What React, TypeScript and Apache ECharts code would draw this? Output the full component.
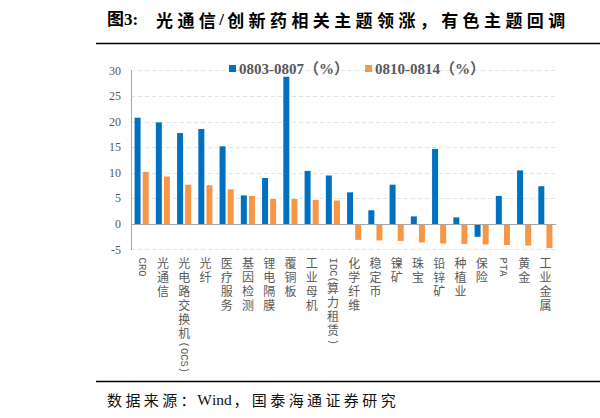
import { useEffect, useRef } from 'react'
import * as echarts from 'echarts'

// 行业主题（横轴）
const CATEGORIES = [
  'CRO',
  '光通信',
  '光电路交换机(OCS)',
  '光纤',
  '医疗服务',
  '基因检测',
  '锂电隔膜',
  '覆铜板',
  '工业母机',
  'IDC(算力租赁)',
  '化学纤维',
  '稳定币',
  '镍矿',
  '珠宝',
  '铅锌矿',
  '种植业',
  '保险',
  'PTA',
  '黄金',
  '工业金属',
]

const SERIES_NAMES = ['0803-0807（%）', '0810-0814（%）']

// 0803-0807 涨跌幅
const WEEK_A = [20.8, 19.9, 17.8, 18.6, 15.2, 5.6, 9.0, 28.8, 10.4, 9.5, 6.2, 2.7, 7.7, 1.5, 14.7, 1.3, -2.5, 5.5, 10.5, 7.4]
// 0810-0814 涨跌幅
const WEEK_B = [10.2, 9.3, 7.7, 7.6, 6.8, 5.5, 4.9, 4.9, 4.7, 4.6, -3.1, -3.2, -3.3, -3.6, -3.8, -3.9, -4.0, -4.1, -4.2, -4.7]

const Y_MIN = -5
const Y_MAX = 30
const Y_STEP = 5

const TITLE_LEAD = '图3:'
const TITLE_TEXT = '光通信/创新药相关主题领涨，有色主题回调'
const SOURCE_TEXT = '数据来源：Wind，国泰海通证券研究'

const BLUE = '#0070C0'
const ORANGE = '#F79646'
const GRAY_TEXT = '#595959'
const SERIF = '"Liberation Serif", "Noto Sans CJK SC", serif'
const CJK = '"Noto Sans CJK SC"'

// 竖排标签尺寸
const CJK_FS = 12
const CJK_LH = 14
const LATIN_FS = 10.5
const LATIN_W = LATIN_FS * 0.6 // Liberation Mono 等宽字符宽度

const isLatin = (c: string) => /[\x00-\x7F]/.test(c)

/** 把名称拆成西文段与汉字段 */
const splitRuns = (name: string) => {
  const runs: { latin: boolean; text: string }[] = []
  for (const c of Array.from(name)) {
    const latin = isLatin(c)
    const last = runs[runs.length - 1]
    if (last && last.latin === latin) last.text += c
    else runs.push({ latin, text: c })
  }
  return runs
}

/** 主标签：汉字直立逐字换行，前置西文段留出空位 */
const uprightLabel = (name: string) => {
  const runs = splitRuns(name)
  while (runs.length && runs[runs.length - 1].latin) runs.pop()
  return runs
    .map((r) => (r.latin ? `{v${r.text.length}| }` : Array.from(r.text).join('\n')))
    .join('\n')
}

/** 副标签：西文段顺时针旋转，汉字段用左内边距留空 */
const rotatedLabel = (name: string) => {
  const runs = splitRuns(name)
  if (!runs.some((r) => r.latin)) return ''
  let skip = 0
  const parts: string[] = []
  for (const r of runs) {
    if (r.latin) {
      parts.push(`{lp${skip}|${r.text}}`)
      skip = 0
    } else {
      skip += Array.from(r.text).length
    }
  }
  return parts.join('')
}

const spacerRich: Record<string, object> = {}
const latinRich: Record<string, object> = {}
for (let n = 0; n <= 10; n++) {
  spacerRich[`v${n}`] = { fontSize: 1, lineHeight: n * LATIN_W }
  latinRich[`lp${n}`] = {
    fontSize: LATIN_FS,
    fontFamily: '"Liberation Mono"',
    color: GRAY_TEXT,
    lineHeight: 12,
    padding: [0, 0, 0, n * CJK_LH],
  }
}

/** 逐字等距排版（模拟字间距） */
const spaced = (text: string, tag: string) =>
  Array.from(text)
    .map((c) => (isLatin(c) ? `{${tag}a|${c}}` : `{${tag}|${c}}`))
    .join('')

export default function App() {
  const chartRef = useRef<HTMLDivElement>(null)

  useEffect(() => {
    if (!chartRef.current) return
    const chart = echarts.init(chartRef.current, undefined, { renderer: 'svg' })

    const option: echarts.EChartsOption = {
      animation: false,
      backgroundColor: '#fff',
      textStyle: { fontFamily: SERIF },
      legend: {
        data: SERIES_NAMES,
        left: 224,
        top: 56,
        itemWidth: 7,
        itemHeight: 7,
        itemGap: 16,
        icon: 'rect',
        textStyle: { fontFamily: SERIF, fontSize: 15, fontWeight: 'bold', color: GRAY_TEXT, padding: [0, 0, 0, -2] },
      },
      grid: { left: 131, right: 44, top: 70.7, bottom: 168.4, containLabel: false },
      xAxis: [
        {
          type: 'category',
          data: CATEGORIES,
          axisLine: { show: false, onZero: false },
          axisTick: { show: false },
          axisLabel: {
            interval: 0,
            margin: 7,
            fontSize: CJK_FS,
            lineHeight: CJK_LH,
            color: GRAY_TEXT,
            fontFamily: SERIF,
            formatter: (v: string) => uprightLabel(v),
            rich: spacerRich,
          },
        },
        {
          type: 'category',
          data: CATEGORIES,
          position: 'bottom',
          axisLine: { show: false, onZero: false },
          axisTick: { show: false },
          splitLine: { show: false },
          axisLabel: {
            interval: 0,
            margin: 8,
            rotate: -90,
            fontSize: LATIN_FS,
            color: GRAY_TEXT,
            formatter: (v: string) => rotatedLabel(v),
            rich: latinRich,
          },
        },
      ],
      yAxis: {
        type: 'value',
        min: Y_MIN,
        max: Y_MAX,
        interval: Y_STEP,
        axisLine: { show: true, lineStyle: { color: '#A6A6A6', width: 1 } },
        axisTick: { show: false },
        axisLabel: { fontSize: 12, color: GRAY_TEXT, fontFamily: SERIF, margin: 10 },
        splitLine: { show: true, lineStyle: { color: '#E3E3E3', type: [4, 3], width: 1 } },
      },
      series: [
        {
          name: SERIES_NAMES[0],
          type: 'bar',
          data: WEEK_A,
          barWidth: 6,
          barGap: '35%',
          itemStyle: { color: BLUE },
          markLine: {
            silent: true,
            symbol: 'none',
            label: { show: false },
            lineStyle: { color: '#A6A6A6', type: 'solid', width: 1.2 },
            data: [{ yAxis: 0 }],
          },
        },
        {
          name: SERIES_NAMES[1],
          type: 'bar',
          data: WEEK_B,
          barWidth: 6,
          barGap: '35%',
          itemStyle: { color: ORANGE },
        },
      ],
      graphic: [
        {
          type: 'text',
          left: 107,
          top: 11,
          style: {
            text: TITLE_LEAD,
            fontSize: 17,
            fontWeight: 'bold',
            fontFamily: '"Liberation Serif", "Noto Sans CJK SC"',
            fill: '#000',
          },
        },
        {
          type: 'text',
          left: 156,
          top: 11,
          style: {
            text: spaced(TITLE_TEXT, 't'),
            fill: '#000',
            rich: {
              t: { width: 21.4, align: 'center', fontSize: 17, fontWeight: 'bold', fontFamily: CJK, fill: '#000' },
              ta: { width: 7, align: 'center', fontSize: 17, fontWeight: 'bold', fontFamily: '"Liberation Serif"', fill: '#000' },
            },
          },
        },
        {
          type: 'line',
          shape: { x1: 96, y1: 43.5, x2: 600, y2: 43.5 },
          style: { stroke: '#000', lineWidth: 1.5 },
        },
        {
          type: 'line',
          shape: { x1: 96, y1: 381.5, x2: 600, y2: 381.5 },
          style: { stroke: '#000', lineWidth: 1.5 },
        },
        {
          type: 'text',
          left: 107,
          top: 391,
          style: {
            text: spaced(SOURCE_TEXT, 'f'),
            fill: '#111',
            rich: {
              f: { width: 18.4, align: 'center', fontSize: 15, fontFamily: CJK, fill: '#111' },
              fa: { align: 'center', fontSize: 15.5, fontFamily: '"Liberation Serif"', fill: '#111' },
            },
          },
        },
      ],
    }

    chart.setOption(option)
    return () => chart.dispose()
  }, [])

  return (
    <div
      ref={chartRef}
      style={{ position: 'fixed', left: 0, top: 0, width: 600, height: 418, background: '#fff' }}
    />
  )
}
